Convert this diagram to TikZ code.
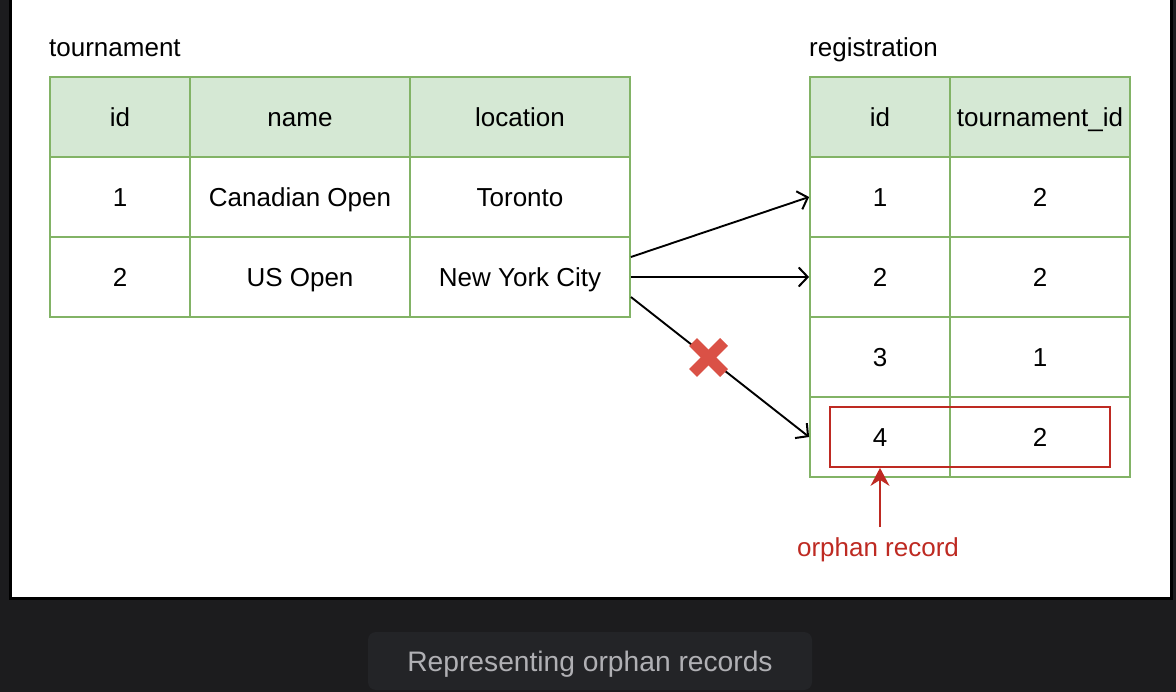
\documentclass[tikz,border=0pt]{standalone}
\usepackage{fontspec}
\setmainfont{Liberation Sans}
\usetikzlibrary{arrows.meta,calc}
\definecolor{bgdark}{HTML}{1C1C1E}
\definecolor{capbox}{HTML}{232427}
\definecolor{captext}{HTML}{B0B0B4}
\definecolor{hdrfill}{HTML}{D5E8D4}
\definecolor{cellline}{HTML}{82B366}
\definecolor{orphanred}{HTML}{BE2A22}
\definecolor{xred}{HTML}{DA5146}
\tikzset{
  txt/.style={font=\fontsize{26}{30}\selectfont, text height=18.6pt, text depth=0pt},
  cell/.style={txt, draw=cellline, line width=1.8pt, minimum height=80pt, inner sep=0pt, text=black},
  hdr/.style={cell, fill=hdrfill},
  body/.style={cell, fill=white},
  link/.style={draw=black, line width=1.9pt, -{Straight Barb[length=9pt,width=19pt,line width=2pt]}},
  tbltitle/.style={txt, anchor=west, inner sep=0pt},
}
\begin{document}
\begin{tikzpicture}[x=1pt,y=-1pt]
\useasboundingbox (0,0) rectangle (1176,692);
\fill[bgdark] (0,0) rectangle (1176,692);
\draw[line width=3pt, fill=white] (10,-5) rectangle (1171,598.5);
% caption
\node[fill=capbox, rounded corners=8pt, minimum width=444pt, minimum height=58pt, inner sep=0pt,
  text=captext, font=\fontsize{28.2}{32}\selectfont, text height=20.2pt, text depth=0pt] (cap) at (590,661) {Representing orphan records};
% titles
\node[tbltitle] (ttitle) at (49,47) {tournament};
\node[tbltitle] (rtitle) at (809,47) {registration};
% tournament table
\node[hdr, minimum width=140pt] (th1) at (120,117) {id};
\node[hdr, minimum width=220pt] (th2) at (300,117) {name};
\node[hdr, minimum width=220pt] (th3) at (520,117) {location};
\node[body, minimum width=140pt] (t11) at (120,197) {1};
\node[body, minimum width=220pt] (t12) at (300,197) {Canadian Open};
\node[body, minimum width=220pt] (t13) at (520,197) {Toronto};
\node[body, minimum width=140pt] (t21) at (120,277) {2};
\node[body, minimum width=220pt] (t22) at (300,277) {US Open};
\node[body, minimum width=220pt] (t23) at (520,277) {New York City};
% registration table
\node[hdr, minimum width=140pt] (rh1) at (880,117) {id};
\node[hdr, minimum width=180pt] (rh2) at (1040,117) {tournament\_id};
\node[body, minimum width=140pt] (r11) at (880,197) {1};
\node[body, minimum width=180pt] (r12) at (1040,197) {2};
\node[body, minimum width=140pt] (r21) at (880,277) {2};
\node[body, minimum width=180pt] (r22) at (1040,277) {2};
\node[body, minimum width=140pt] (r31) at (880,357) {3};
\node[body, minimum width=180pt] (r32) at (1040,357) {1};
\node[body, minimum width=140pt] (r41) at (880,437) {4};
\node[body, minimum width=180pt] (r42) at (1040,437) {2};
% orphan highlight
\node[draw=orphanred, line width=1.8pt, minimum width=280pt, minimum height=60pt, inner sep=0pt] (orphan) at (970,437) {};
\node[txt, text=orphanred, inner sep=0pt] (olabel) at (878,547) {orphan record};
\draw[draw=orphanred, line width=1.6pt, -{Stealth[length=18pt,width=19pt,inset=6pt]}]
  (880,527) -- (orphan.south -| r41);
% links
\draw[link] ($(t23.east)+(0,-20)$) -- (r11.west);
\draw[link] (t23.east) -- (r21.west);
\draw[link] ($(t23.east)+(0,20)$) -- (r41.west);
% cross mark
\coordinate (xmark) at (708.5,357.5);
\draw[xred, line width=11pt] ($(xmark)+(-15.5,-15.5)$) -- ($(xmark)+(15.5,15.5)$);
\draw[xred, line width=11pt] ($(xmark)+(-15.5,15.5)$) -- ($(xmark)+(15.5,-15.5)$);
\end{tikzpicture}
\end{document}
